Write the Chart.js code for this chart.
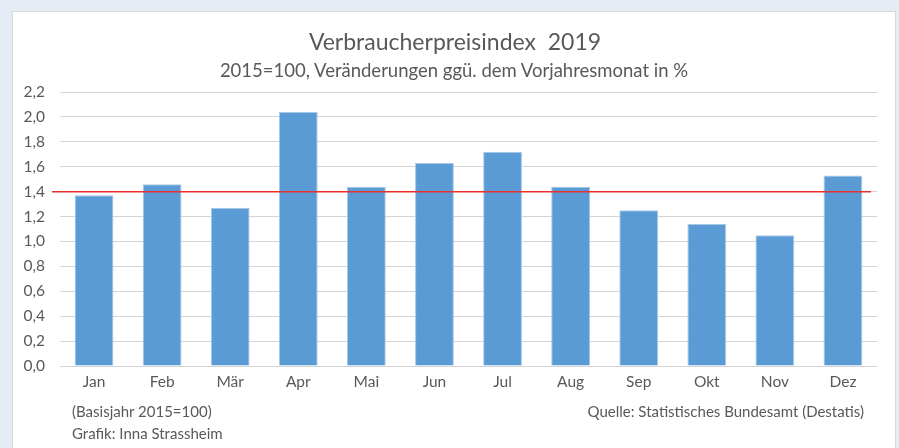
<!DOCTYPE html>
<html><head><meta charset="utf-8">
<script src="https://cdn.jsdelivr.net/npm/chart.js@4"></script>
<style>
html,body{margin:0;padding:0;width:899px;height:448px;overflow:hidden;background:#e5ecf5;}
#panel{position:absolute;left:12px;top:11px;width:884px;height:440px;background:#fff;border:1px solid #d9d9d9;box-sizing:border-box;}
#wrap{position:absolute;left:0;top:0;width:899px;height:448px;}
.t{position:absolute;font-family:Lato,"Open Sans",sans-serif;color:#595959;white-space:nowrap;line-height:1;}
</style></head>
<body>
<div id="panel"></div>
<div id="wrap"><canvas id="c" width="899" height="448"></canvas></div>
<div class="t" id="title" style="left:0;width:910px;text-align:center;top:30px;font-size:23px;">Verbraucherpreisindex&nbsp; 2019</div>
<div class="t" id="sub" style="left:0;width:908px;text-align:center;top:61px;font-size:18.5px;">2015=100, Veränderungen ggü. dem Vorjahresmonat in %</div>
<div class="t" style="left:72px;top:404px;font-size:15px;">(Basisjahr 2015=100)</div>
<div class="t" style="left:72px;top:426px;font-size:15px;">Grafik: Inna Strassheim</div>
<div class="t" style="right:35px;top:404px;font-size:15px;">Quelle: Statistisches Bundesamt (Destatis)</div>
<script>
const categories = ["Jan","Feb","Mär","Apr","Mai","Jun","Jul","Aug","Sep","Okt","Nov","Dez"];
const values = [1.37,1.46,1.27,2.04,1.44,1.63,1.72,1.44,1.25,1.14,1.05,1.53];
const referenceLine = 1.4;
const yTicks = [0,0.2,0.4,0.6,0.8,1.0,1.2,1.4,1.6,1.8,2.0,2.2];

const refPlugin = {
  id:'refLine',
  afterDatasetsDraw(chart){
    const y = chart.scales.y.getPixelForValue(referenceLine);
    const a = chart.chartArea, ctx = chart.ctx;
    ctx.save();
    ctx.strokeStyle = '#e8302c';
    ctx.lineWidth = 1.5;
    ctx.beginPath();
    ctx.moveTo(a.left - 8, y);
    ctx.lineTo(a.right - 6, y);
    ctx.stroke();
    ctx.restore();
  }
};

new Chart(document.getElementById('c'), {
  type:'bar',
  data:{labels:categories,datasets:[{data:values,backgroundColor:'#5b9bd5',borderColor:'#a6c8e8',borderWidth:1,categoryPercentage:0.57,barPercentage:1}]},
  options:{
    responsive:false,animation:false,
    layout:{padding:{left:0,right:22,top:92,bottom:0}},
    plugins:{legend:{display:false},tooltip:{enabled:false}},
    scales:{
      x:{grid:{display:false,drawTicks:false},border:{display:false},
         ticks:{color:'#595959',font:{family:'Lato',size:15.5},padding:7},
         afterFit(s){s.height=82;}},
      y:{min:0,max:2.2,
         afterBuildTicks(s){s.ticks = yTicks.map(v=>({value:v}));},
         grid:{color:'#d4d4d4',lineWidth:1,drawTicks:false},border:{display:false},
         ticks:{color:'#595959',font:{family:'Lato',size:15.5},padding:15,
           callback:v=>v.toFixed(1).replace('.',',')},
         afterFit(s){s.width=60;}}
    }
  },
  plugins:[refPlugin]
});
</script>
</body></html>
